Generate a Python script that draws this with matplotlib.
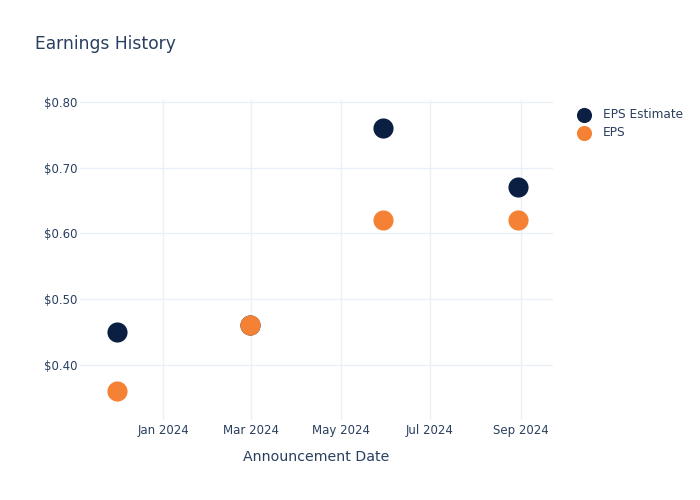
import matplotlib
matplotlib.use('Agg')
import matplotlib.pyplot as plt
import matplotlib.dates as mdates
import pandas as pd

# earnings announcements
dates = pd.to_datetime(['2023-11-30', '2024-02-29', '2024-05-30', '2024-08-30'])
eps_estimate = [0.45, 0.46, 0.76, 0.67]
eps_actual = [0.36, 0.46, 0.62, 0.62]

navy = '#0b1f42'
orange = '#f58135'
txt = '#2a3f5f'
grid = '#ebf0f8'

fig = plt.figure(figsize=(7, 5), dpi=100)
ax = fig.add_axes([80/700, 80/500, 473/700, 320/500])

ax.scatter(dates, eps_estimate, s=210, color=navy, label='EPS Estimate', zorder=3, linewidths=0)
ax.scatter(dates, eps_actual, s=210, color=orange, label='EPS', zorder=3, linewidths=0)

ax.set_xlim(pd.Timestamp('2023-11-05'), pd.Timestamp('2024-09-23'))
ax.set_ylim(0.316, 0.803)
ax.set_yticks([0.4, 0.5, 0.6, 0.7, 0.8])
ax.yaxis.set_major_formatter(plt.FuncFormatter(lambda v, p: '${:.2f}'.format(v)))
ax.xaxis.set_major_locator(mdates.MonthLocator(bymonth=[1, 3, 5, 7, 9]))
ax.xaxis.set_major_formatter(mdates.DateFormatter('%b %Y'))

ax.grid(True, color=grid, linewidth=1)
ax.set_axisbelow(True)
for s in ax.spines.values():
    s.set_visible(False)
ax.tick_params(length=0, colors=txt, labelsize=8.5)
ax.tick_params(axis='y', pad=2)
ax.tick_params(axis='x', pad=3)

ax.set_xlabel('Announcement Date', color=txt, fontsize=10.2, labelpad=9)
fig.text(35/700, 1 - 44/500, 'Earnings History', color=txt, fontsize=12.3, va='center')

leg = ax.legend(loc='upper left', bbox_to_anchor=(1.016, 1.01), frameon=False,
                fontsize=8.7, labelcolor=txt, handletextpad=0.6, labelspacing=0.45,
                markerscale=0.75)

fig.savefig('out.png', dpi=100)
